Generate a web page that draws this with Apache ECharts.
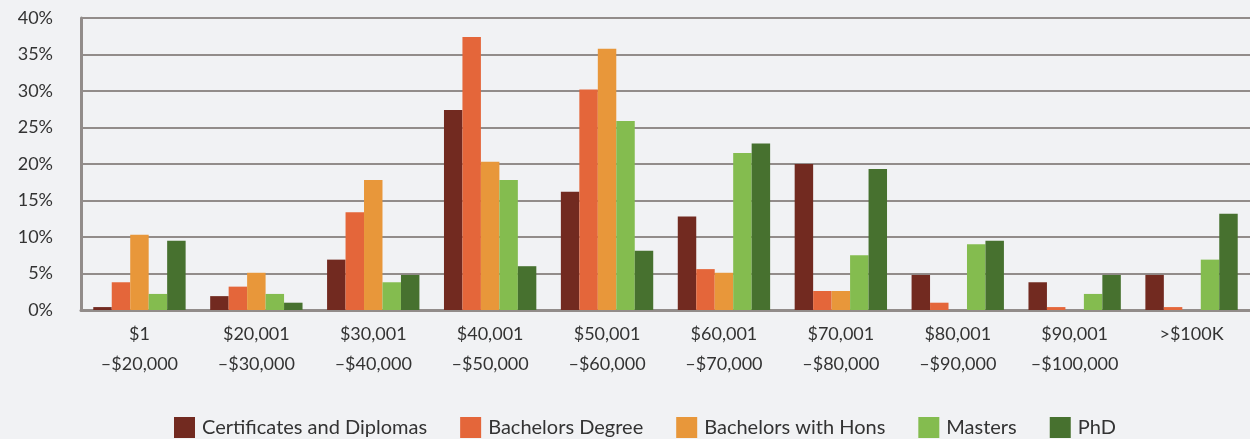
<!DOCTYPE html>
<html><head><meta charset="utf-8">
<script src="https://cdn.jsdelivr.net/npm/echarts@6/dist/echarts.min.js"></script>
<style>html,body{margin:0;padding:0;background:#f1f2f4;}#c{width:1250px;height:439px;}</style>
</head><body><div id="c"></div>
<script>
var categories = ['$1\n–$20,000','$20,001\n–$30,000','$30,001\n–$40,000','$40,001\n–$50,000','$50,001\n–$60,000','$60,001\n–$70,000','$70,001\n–$80,000','$80,001\n–$90,000','$90,001\n–$100,000','>$100K'];
var certificates = [0.4, 1.9, 6.9, 27.4, 16.2, 12.8, 20.0, 4.8, 3.8, 4.8];
var bachelors = [3.8, 3.2, 13.4, 37.4, 30.2, 5.6, 2.6, 1.0, 0.4, 0.4];
var hons = [10.3, 5.1, 17.8, 20.3, 35.8, 5.1, 2.6, 0, 0, 0];
var masters = [2.2, 2.2, 3.8, 17.8, 25.9, 21.5, 7.5, 9.0, 2.2, 6.9];
var phd = [9.5, 1.0, 4.8, 6.0, 8.1, 22.8, 19.3, 9.5, 4.8, 13.2];
var seriesNames = ['Certificates and Diplomas','Bachelors Degree','Bachelors with Hons','Masters','PhD'];
var colors = ['#722a20','#e4663a','#e8973a','#84bc4f','#47712f'];
var yTicks = [0,5,10,15,20,25,30,35,40];

var font = 'Lato, "Open Sans", sans-serif';
var chart = echarts.init(document.getElementById('c'));
var data = [certificates, bachelors, hons, masters, phd];
chart.setOption({
  backgroundColor: '#f1f2f4',
  animation: false,
  color: colors,
  grid: {left: 81, right: 0, top: 18, bottom: 129},
  legend: {
    bottom: 1, left: 174, padding: 0, itemWidth: 21, itemHeight: 21, itemGap: 33,
    icon: 'rect',
    textStyle: {fontFamily: font, fontSize: 20, color: '#333', padding: [0,0,0,2]},
    data: seriesNames
  },
  xAxis: {
    type: 'category', data: categories,
    axisLine: {lineStyle: {color: '#928c8a', width: 3}},
    axisTick: {show: false},
    axisLabel: {fontFamily: font, fontSize: 18, color: '#333', lineHeight: 30, margin: 9, interval: 0}
  },
  yAxis: {
    type: 'value', min: 0, max: 40, interval: 5,
    axisLine: {show: true, lineStyle: {color: '#928c8a', width: 3}},
    axisTick: {show: false},
    splitLine: {lineStyle: {color: '#928c8a', width: 2}},
    axisLabel: {fontFamily: font, fontSize: 18, color: '#333', margin: 28,
      formatter: function(v){ return yTicks.indexOf(v) >= 0 ? v + '%' : ''; }}
  },
  series: seriesNames.map(function(n, i){
    return {name: n, type: 'bar', data: data[i], barGap: '0%', barCategoryGap: '21%'};
  })
});
</script>
</body></html>
